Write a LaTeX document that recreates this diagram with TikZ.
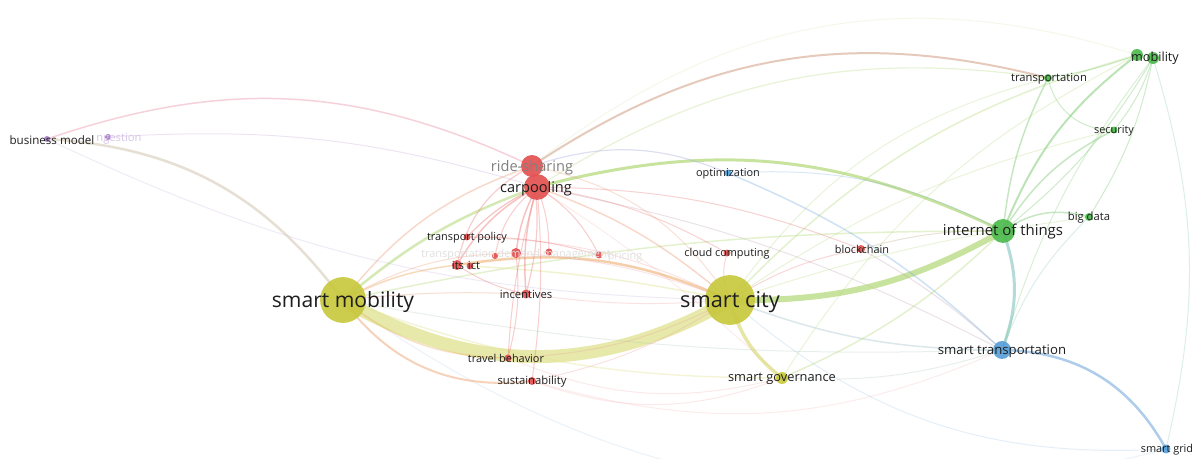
\documentclass[tikz,border=0pt]{standalone}
\usepackage{fontspec}
\setmainfont{Open Sans}
\newdimen\pxu \pxu=0.5669pt
\pgfdeclarelayer{background}
\pgfdeclarelayer{foreground}
\pgfsetlayers{background,main,foreground}
\definecolor{ycl}{RGB}{200,200,62}
\definecolor{rcl}{RGB}{228,82,82}
\definecolor{gcl}{RGB}{78,186,78}
\definecolor{bcl}{RGB}{88,160,215}
\definecolor{pcl}{RGB}{165,125,205}
\definecolor{txt}{RGB}{30,30,30}
\definecolor{eY}{RGB}{224,228,145}
\definecolor{eYG}{RGB}{178,216,118}
\definecolor{eG}{RGB}{120,200,110}
\definecolor{eR}{RGB}{236,112,112}
\definecolor{eO}{RGB}{236,168,100}
\definecolor{eB}{RGB}{120,172,222}
\definecolor{eP}{RGB}{190,160,215}
\definecolor{ePk}{RGB}{236,155,175}
\definecolor{eGB}{RGB}{130,196,190}
\definecolor{eBr}{RGB}{205,150,120}
\tikzset{
  kw/.style={circle, inner sep=0pt, fill opacity=0.92, minimum size=#1*2\pxu},
  yk/.style={kw=#1, fill=ycl},
  rk/.style={kw=#1, fill=rcl},
  gk/.style={kw=#1, fill=gcl},
  bk/.style={kw=#1, fill=bcl},
  pk/.style={kw=#1, fill=pcl},
  lbl/.style={inner sep=0pt, text=txt, font=\fontsize{#1}{#1}\selectfont, yshift=-0.8\pxu},
  ed/.style={line cap=round, draw opacity=#1},
}
\begin{document}
\begin{tikzpicture}[x=0.02cm,y=-0.02cm]
\useasboundingbox (0,0) rectangle (1198,459);
% keyword circles
\node[yk=23] (sm) at (343,300) {};
\node[yk=25] (sc) at (730,300) {};
\node[yk=6] (sg) at (782,378) {};
\node[gk=12] (iot) at (1003,231) {};
\node[bk=9] (st) at (1002,350) {};
\node[bk=4.5] (grid) at (1166,449) {};
\node[rk=11] (rs) at (532,166) {};
\node[rk=13] (cp) at (537,187) {};
\node[rk=3.5] (tp) at (467,237) {};
\node[rk=3] (tdA) at (495,256) {};
\node[rk=5] (tdm) at (516,253) {};
\node[rk=3.5] (tdB) at (549,252) {};
\node[rk=3.5] (pr) at (599,255) {};
\node[rk=5] (its) at (457,265) {};
\node[rk=3.5] (ict) at (470,266) {};
\node[rk=4.5] (inc) at (526,294) {};
\node[rk=3.5] (tb) at (508,358) {};
\node[rk=4] (sus) at (532,381) {};
\node[bk=3.5] (opt) at (728,173) {};
\node[rk=3.5] (cc) at (727,253) {};
\node[rk=4] (bc) at (861,249) {};
\node[pk=3] (bm) at (47,139) {};
\node[pk=3] (cong) at (108,137) {};
\node[gk=4] (trn) at (1048,78) {};
\node[gk=6] (mobA) at (1137,55) {};
\node[gk=6] (mob) at (1153,58) {};
\node[gk=3.5] (sec) at (1114,130) {};
\node[gk=4] (bd) at (1089,217) {};
% connectors
\begin{pgfonlayer}{background}
\fill[white] (0,0) rectangle (1198,459);
% faint long arcs
\draw[ed=.22, draw=eYG!70, line width=1\pxu] (rs.center) to[bend left=28] (mobA.center);
\draw[ed=.5, draw=eBr, line width=2\pxu] (rs.center) to[bend left=24] (trn.center);
\draw[ed=.3, draw=eYG, line width=1.2\pxu] (cp.center) to[bend left=20] (trn.center);
\draw[ed=.45, draw=ePk, line width=1.5\pxu] (bm.center) to[bend left=22] (rs.center);
\draw[ed=.22, draw=eP, line width=1\pxu] (bm.center) to[bend right=12] (sc.center);
\draw[ed=.28, draw=eP, line width=1\pxu] (cong.center) to[bend left=10] (cp.center);
\draw[ed=.25, draw=eB!60, line width=1\pxu] (sm.center) to[bend right=25] (grid.center);
\draw[ed=.28, draw=eB!70, line width=1\pxu] (sc.center) to[bend right=22] (grid.center);
\draw[ed=.25, draw=eR!60, line width=1\pxu] (tb.center) to[bend right=18] (sg.center);
\draw[ed=.25, draw=eR!60, line width=1\pxu] (sus.center) to[bend right=20] (sg.center);
\draw[ed=.22, draw=eR!60, line width=1\pxu] (sus.center) to[bend right=20] (st.center);
\draw[ed=.25, draw=eR!50!eB, line width=1\pxu] (cp.center) to[bend left=8] (st.center);
\draw[ed=.22, draw=eR!60, line width=1\pxu] (cp.center) to[bend left=5] (sg.center);
% yellow cluster
\draw[ed=.78, draw=eY, line width=13\pxu] (sm.center) to[bend right=30] (sc.center);
\draw[ed=.7, draw=eYG, line width=6\pxu] (sc.center) to[bend right=15] (iot.center);
\draw[ed=.7, draw=eYG, line width=3\pxu] (cp.center) to[bend left=20] (iot.center);
\draw[ed=.65, draw=ycl!70, line width=3.5\pxu] (sc.center) to[bend right=18] (sg.center);
\draw[ed=.55, draw=eYG, line width=2.5\pxu] (sm.center) to[bend left=10] (cp.center);
\draw[ed=.35, draw=eY, line width=1.5\pxu] (sm.center) to[bend right=10] (sg.center);
\draw[ed=.35, draw=eYG, line width=1.5\pxu] (sm.center) to[bend left=6] (iot.center);
\draw[ed=.28, draw=eB!50!eY, line width=1\pxu] (sm.center) to[bend right=6] (st.center);
\draw[ed=.42, draw=eO, line width=1.5\pxu] (sm.center) to[bend left=10] (its.center);
\draw[ed=.55, draw=eO, line width=2.5\pxu] (its.center) to[bend left=16] (sc.center);
\draw[ed=.42, draw=eY, line width=1.5\pxu] (ict.center) to[bend left=4] (sc.center);
\draw[ed=.45, draw=eO!80!eR, line width=2\pxu] (sm.center) to[bend right=30] (sus.center);
\draw[ed=.35, draw=eO, line width=1.5\pxu] (sm.center) to[bend right=18] (tb.center);
\draw[ed=.3, draw=eO!60!eR, line width=1\pxu] (sm.center) to[bend left=4] (inc.center);
\draw[ed=.3, draw=eO!60!eR, line width=1\pxu] (sm.center) to[bend left=14] (tdm.center);
\draw[ed=.55, draw=eP!45!eY, line width=2.5\pxu] (sm.center) to[bend right=25] (bm.center);
\draw[ed=.35, draw=eO!60!eR, line width=1.5\pxu] (sm.center) to[bend left=16] (rs.center);
\draw[ed=.35, draw=eO!60!eR, line width=1.5\pxu] (sc.center) to[bend right=10] (cp.center);
\draw[ed=.28, draw=eO!60!eR, line width=1\pxu] (sc.center) to[bend right=22] (rs.center);
\draw[ed=.35, draw=eYG, line width=1.5\pxu] (sc.center) to[bend left=15] (mobA.center);
\draw[ed=.28, draw=eYG, line width=1\pxu] (sc.center) to[bend left=20] (trn.center);
\draw[ed=.28, draw=eYG, line width=1\pxu] (sc.center) to[bend left=5] (bd.center);
\draw[ed=.28, draw=eYG, line width=1\pxu] (sc.center) to[bend left=10] (sec.center);
\draw[ed=.35, draw=eB!70!eY, line width=1.5\pxu] (sc.center) to[bend right=10] (st.center);
\draw[ed=.35, draw=eR!80, line width=1\pxu] (sc.center) to[bend left=10] (bc.center);
\draw[ed=.35, draw=eR!80, line width=1\pxu] (sc.center) to[bend left=20] (cc.center);
\draw[ed=.28, draw=eR!70, line width=1\pxu] (sc.center) to[bend left=12] (tb.center);
\draw[ed=.28, draw=eR!70, line width=1\pxu] (sc.center) to[bend left=10] (sus.center);
\draw[ed=.28, draw=eR!70, line width=1\pxu] (inc.center) to[bend right=6] (sc.center);
\draw[ed=.28, draw=eR!70, line width=1\pxu] (tdm.center) to[bend left=8] (sc.center);
\draw[ed=.28, draw=eR!70, line width=1\pxu] (tp.center) to[bend left=12] (sc.center);
% red cluster
\draw[ed=.42, draw=eR, line width=1.5\pxu] (cp.center) to[bend right=15] (its.center);
\draw[ed=.42, draw=eR, line width=1.2\pxu] (cp.center) to[bend right=10] (tp.center);
\draw[ed=.42, draw=eR, line width=1.5\pxu] (cp.center) to[bend right=10] (tdm.center);
\draw[ed=.35, draw=eR, line width=1\pxu] (cp.center) to[bend right=20] (tdA.center);
\draw[ed=.35, draw=eR, line width=1\pxu] (cp.center) to[bend left=10] (tdB.center);
\draw[ed=.35, draw=eR, line width=1\pxu] (cp.center) to[bend left=15] (pr.center);
\draw[ed=.42, draw=eR, line width=1.5\pxu] (cp.center) to[bend right=10] (inc.center);
\draw[ed=.35, draw=eR, line width=1.2\pxu] (rs.center) to[bend left=12] (inc.center);
\draw[ed=.35, draw=eR, line width=1.2\pxu] (rs.center) to[bend right=25] (its.center);
\draw[ed=.35, draw=eR, line width=1\pxu] (cp.center) to[bend right=6] (tb.center);
\draw[ed=.35, draw=eR, line width=1\pxu] (cp.center) to[bend left=6] (sus.center);
\draw[ed=.32, draw=eR, line width=1\pxu] (cp.center) to[bend left=10] (cc.center);
\draw[ed=.32, draw=eR, line width=1\pxu] (cp.center) to[bend left=10] (bc.center);
\draw[ed=.35, draw=eR, line width=1\pxu] (its.center) to[bend right=10] (inc.center);
\draw[ed=.35, draw=eR, line width=1\pxu] (tdm.center) to[bend left=10] (tb.center);
\draw[ed=.35, draw=eR, line width=1\pxu] (tp.center) to[bend left=8] (pr.center);
\draw[ed=.35, draw=eP!60!eB, line width=1.2\pxu] (rs.center) to[bend left=20] (opt.center);
\draw[ed=.35, draw=eB, line width=1.5\pxu] (opt.center) to[bend left=10] (st.center);
\draw[ed=.28, draw=eB, line width=1\pxu] (opt.center) to[bend left=15] (iot.center);
\draw[ed=.28, draw=eR!50!eG, line width=1\pxu] (bc.center) to[bend left=8] (iot.center);
\draw[ed=.28, draw=eR!50!eB, line width=1\pxu] (bc.center) to[bend left=6] (st.center);
% green / blue cluster
\draw[ed=.5, draw=eG, line width=2\pxu] (iot.center) to[bend left=15] (mobA.center);
\draw[ed=.35, draw=eG, line width=1\pxu] (iot.center) to[bend right=10] (mob.center);
\draw[ed=.42, draw=eG, line width=1.5\pxu] (iot.center) to[bend left=10] (trn.center);
\draw[ed=.42, draw=eG, line width=1.5\pxu] (iot.center) to[bend left=15] (sec.center);
\draw[ed=.42, draw=eG, line width=1.5\pxu] (iot.center) to[bend left=25] (bd.center);
\draw[ed=.35, draw=eG, line width=1\pxu] (trn.center) to[bend right=5] (mobA.center);
\draw[ed=.35, draw=eG, line width=1\pxu] (sec.center) to[bend right=10] (mob.center);
\draw[ed=.35, draw=eG, line width=1\pxu] (bd.center) to[bend right=10] (mob.center);
\draw[ed=.35, draw=eG, line width=1\pxu] (trn.center) to[bend right=40] (sec.center);
\draw[ed=.6, draw=eGB, line width=3\pxu] (iot.center) to[bend left=20] (st.center);
\draw[ed=.6, draw=eB, line width=2.5\pxu] (st.center) to[bend left=30] (grid.center);
\draw[ed=.28, draw=eG, line width=1\pxu] (st.center) to[bend left=10] (mob.center);
\draw[ed=.28, draw=eGB, line width=1\pxu] (grid.center) to[bend right=15] (mob.center);
\draw[ed=.28, draw=eGB, line width=1\pxu] (st.center) to[bend left=12] (bd.center);
\draw[ed=.35, draw=eYG, line width=1.5\pxu] (sg.center) to[bend right=10] (iot.center);
\draw[ed=.28, draw=eYG, line width=1\pxu] (sg.center) to[bend left=15] (mobA.center);
\draw[ed=.28, draw=eB!50!eY, line width=1\pxu] (sg.center) to[bend right=10] (st.center);
\end{pgfonlayer}
% labels
\begin{pgfonlayer}{foreground}
\node[lbl=12, yshift=-1.2\pxu] (sm-l) at (sm) {smart mobility};
\node[lbl=12.4, yshift=-1.2\pxu] (sc-l) at (sc) {smart city};
\node[lbl=8.5] (iot-l) at (iot) {internet of things};
\node[lbl=7.5] (st-l) at (st) {smart transportation};
\node[lbl=7.3] (sg-l) at (sg) {smart governance};
\node[lbl=6.2] (grid-l) at (1167,449) {smart grid};
\node[lbl=8.3, text=black!50] (rs-l) at (532,167) {ride-sharing};
\node[lbl=8.3] (cp-l) at (536,188) {carpooling};
\node[lbl=6.2] (tp-l) at (tp) {transport policy};
\node[lbl=6.2, text=black!12] (tdm-l) at (516,254) {transportation demand management};
\node[lbl=6.2, text=black!12] (pr-l) at (625,256) {pricing};
\node[lbl=6.4] (its-l) at (458,265) {its};
\node[lbl=6.4] (ict-l) at (474,265) {ict};
\node[lbl=6.4] (inc-l) at (inc) {incentives};
\node[lbl=6.2] (tb-l) at (506,358) {travel behavior};
\node[lbl=6.4] (sus-l) at (sus) {sustainability};
\node[lbl=6.2] (opt-l) at (opt) {optimization};
\node[lbl=6.2] (cc-l) at (cc) {cloud computing};
\node[lbl=6.2] (bc-l) at (862,249) {blockchain};
\node[lbl=6.6] (bm-l) at (52,139) {business model};
\node[lbl=6.4, text=pcl!45, anchor=west] (cong-l) at (96,138) {ngestion};
\node[lbl=6.4] (trn-l) at (1049,78) {transportation};
\node[lbl=7.2] (mob-l) at (1155,57) {mobility};
\node[lbl=6.2] (sec-l) at (sec) {security};
\node[lbl=6.4] (bd-l) at (bd) {big data};
\end{pgfonlayer}
\end{tikzpicture}
\end{document}
